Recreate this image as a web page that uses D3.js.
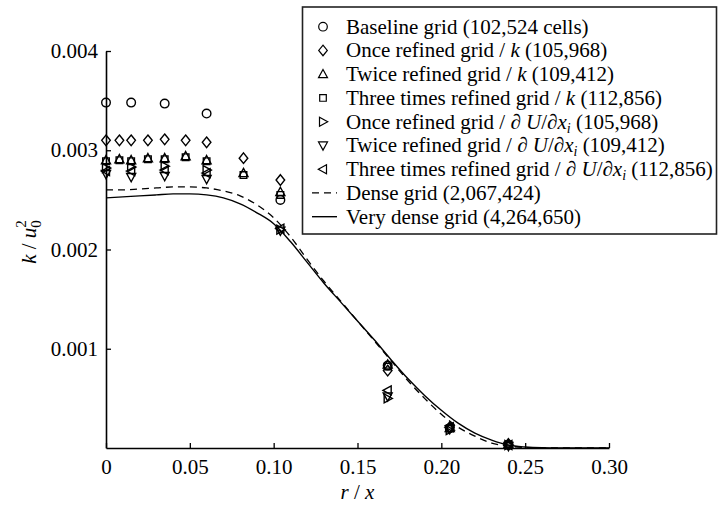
<!DOCTYPE html>
<html>
<head>
<meta charset="utf-8">
<script src="https://cdn.jsdelivr.net/npm/d3@7"></script>
<style>
  html, body { margin: 0; padding: 0; background: #fff; }
</style>
</head>
<body>
<div id="chart"></div>
<script>
// Dades llegides del gràfic: k/u0^2 en funció de r/x

// posicions radials de les malles refinades (/k)
const rRefined = [0, 0.008, 0.015, 0.025, 0.035, 0.0475, 0.06, 0.082, 0.104, 0.168, 0.205, 0.24];
// posicions radials de la malla base i de les refinades per gradient
const rBase = [0, 0.015, 0.035, 0.06, 0.104, 0.168, 0.205, 0.24];

const baseline   = [0.00348, 0.00348, 0.00347, 0.00337, 0.00250, 0.00083, 0.00020, 0.00003];
const onceK      = [0.00310, 0.00310, 0.00310, 0.00310, 0.00311, 0.00310, 0.00308, 0.00292, 0.00270, 0.00078, 0.00021, 0.00004];
const twiceK     = [0.00290, 0.00291, 0.00290, 0.00292, 0.00292, 0.00294, 0.00290, 0.00277, 0.00258, 0.00084, 0.00020, 0.00004];
const threeK     = [0.00289, 0.00290, 0.00289, 0.00291, 0.00291, 0.00293, 0.00289, 0.00275, 0.00255, 0.00082, 0.00020, 0.00003];
const onceGrad   = [0.00282, 0.00283, 0.00284, 0.00280, 0.00220, 0.00050, 0.00018, 0.00003];
const twiceGrad  = [0.00276, 0.00273, 0.00274, 0.00271, 0.00219, 0.00052, 0.00019, 0.00002];
const threeGrad  = [0.00279, 0.00279, 0.00280, 0.00277, 0.00221, 0.00058, 0.00021, 0.00003];

// corbes de referència
const rCurve = [0, 0.01, 0.02, 0.03, 0.04, 0.05, 0.06, 0.07, 0.08, 0.09, 0.10, 0.11, 0.12, 0.13, 0.14, 0.15,
                0.16, 0.17, 0.18, 0.19, 0.20, 0.21, 0.22, 0.23, 0.24, 0.25, 0.26, 0.27, 0.28, 0.29, 0.30];
const denseGrid = [0.00260, 0.00260, 0.00261, 0.00262, 0.00263, 0.00263, 0.00262, 0.00259, 0.00254, 0.00245, 0.00232,
                   0.00213, 0.00190, 0.00168, 0.00148, 0.00128, 0.00108, 0.00088, 0.00068, 0.00050, 0.00034,
                   0.00021, 0.00012, 0.00005, 0.00002, 0.000005, 0, 0, 0, 0, 0];
const veryDenseGrid = [0.00252, 0.00253, 0.00254, 0.00255, 0.00256, 0.00256, 0.00255, 0.00252, 0.00246, 0.00237, 0.00226,
                       0.00208, 0.00187, 0.00166, 0.00147, 0.00128, 0.00109, 0.00089, 0.00070, 0.00053, 0.00038,
                       0.00025, 0.00015, 0.00008, 0.00003, 0.00001, 0.000002, 0, 0, 0, 0];

const xTicks = [0, 0.05, 0.10, 0.15, 0.20, 0.25, 0.30];
const yTicks = [0.001, 0.002, 0.003, 0.004];

const FONT = "Liberation Serif";
const W = 718, H = 505;
const margin = { top: 51, right: 109, bottom: 57, left: 106 };

const svg = d3.select("#chart").append("svg")
    .attr("width", W)
    .attr("height", H);

const x = d3.scaleLinear().domain([0, 0.30]).range([margin.left, W - margin.right]);
const y = d3.scaleLinear().domain([0, 0.004]).range([H - margin.bottom, margin.top]);

// Marcadors: camins simples centrats a l'origen
function markerPath(kind) {
    const p = d3.path();
    if (kind === "circle") {
        p.arc(0, 0, 4.3, 0, 2 * Math.PI);
    } else if (kind === "diamond") {
        p.moveTo(0, -5.3); p.lineTo(4.3, 0); p.lineTo(0, 5.3); p.lineTo(-4.3, 0); p.closePath();
    } else if (kind === "square") {
        p.rect(-3.3, -3.3, 6.6, 6.6);
    } else {
        // triangle cap amunt; els altres es giren
        p.moveTo(0, -4.7); p.lineTo(4.5, 3.5); p.lineTo(-4.5, 3.5); p.closePath();
    }
    return p.toString();
}
const rotation = { up: 0, right: 90, down: 180, left: 270 };

const series = [
    { name: "Baseline grid (102,524 cells)", xs: rBase, ys: baseline, kind: "circle" },
    { name: "Once refined grid / k (105,968)", xs: rRefined, ys: onceK, kind: "diamond" },
    { name: "Twice refined grid / k (109,412)", xs: rRefined, ys: twiceK, kind: "tri", dir: "up" },
    { name: "Three times refined grid / k (112,856)", xs: rRefined, ys: threeK, kind: "square" },
    { name: "Once refined grid / ∂U (105,968)", xs: rBase, ys: onceGrad, kind: "tri", dir: "right" },
    { name: "Twice refined grid / ∂U (109,412)", xs: rBase, ys: twiceGrad, kind: "tri", dir: "down" },
    { name: "Three times refined grid / ∂U (112,856)", xs: rBase, ys: threeGrad, kind: "tri", dir: "left" }
];

// Corbes
const line = d3.line()
    .x(d => x(d[0]))
    .y(d => y(d[1]))
    .curve(d3.curveMonotoneX);

svg.append("path")
    .datum(rCurve.map((r, i) => [r, denseGrid[i]]))
    .attr("d", line)
    .attr("fill", "none")
    .attr("stroke", "#000")
    .attr("stroke-width", 1.3)
    .attr("stroke-dasharray", "7,5");

svg.append("path")
    .datum(rCurve.map((r, i) => [r, veryDenseGrid[i]]))
    .attr("d", line)
    .attr("fill", "none")
    .attr("stroke", "#000")
    .attr("stroke-width", 1.4);

// Punts
series.forEach(s => {
    svg.append("g")
        .selectAll("path")
        .data(s.xs.map((r, i) => [r, s.ys[i]]))
        .join("path")
        .attr("d", markerPath(s.kind))
        .attr("transform", d => `translate(${x(d[0])},${y(d[1])}) rotate(${s.dir ? rotation[s.dir] : 0})`)
        .attr("fill", "none")
        .attr("stroke", "#000")
        .attr("stroke-width", 1.4);
});

// Eixos
const xAxis = svg.append("g")
    .attr("transform", `translate(0,${y(0)})`)
    .call(d3.axisBottom(x).tickValues(xTicks).tickSizeInner(-5).tickSizeOuter(0).tickPadding(11)
        .tickFormat(d => d === 0 ? "0" : d.toFixed(2)));

const yAxis = svg.append("g")
    .attr("transform", `translate(${x(0)},0)`)
    .call(d3.axisLeft(y).tickValues(yTicks).tickSizeInner(-5).tickSizeOuter(0).tickPadding(8)
        .tickFormat(d3.format(".3f")));

[xAxis, yAxis].forEach(a => {
    a.attr("font-size", 21);
    a.select(".domain").attr("stroke", "#000").attr("stroke-width", 1.6);
    a.selectAll(".tick line").attr("stroke", "#000").attr("stroke-width", 1.3);
    a.selectAll(".tick text").attr("fill", "#000");
});

// Títols dels eixos
const xLabel = svg.append("text")
    .attr("x", (x(0) + x(0.30)) / 2)
    .attr("y", 499)
    .attr("text-anchor", "middle")
    .attr("font-size", 21);
xLabel.append("tspan").attr("font-style", "italic").text("r");
xLabel.append("tspan").text(" / ");
xLabel.append("tspan").attr("font-style", "italic").text("x");

const yLabel = svg.append("text")
    .attr("transform", "translate(36,242) rotate(-90)")
    .attr("text-anchor", "middle")
    .attr("font-size", 21);
yLabel.append("tspan").attr("font-style", "italic").text("k");
yLabel.append("tspan").text(" / ");
yLabel.append("tspan").attr("font-style", "italic").text("u");
yLabel.append("tspan").attr("dy", 5).attr("font-size", 15).text("0");
yLabel.append("tspan").attr("dx", -7.5).attr("dy", -15).attr("font-size", 15).text("2");

// Llegenda
const legend = svg.append("g");
legend.append("rect")
    .attr("x", 302.5)
    .attr("y", 7)
    .attr("width", 414)
    .attr("height", 227)
    .attr("fill", "#fff")
    .attr("stroke", "#222")
    .attr("stroke-width", 1.6);

const rowY = i => 26.7 + i * 23.75;
const symX = 323, textX = 346;
const legendSize = 21;

series.forEach((s, i) => {
    legend.append("path")
        .attr("d", markerPath(s.kind))
        .attr("transform", `translate(${symX},${rowY(i)}) rotate(${s.dir ? rotation[s.dir] : 0})`)
        .attr("fill", "none")
        .attr("stroke", "#000")
        .attr("stroke-width", 1.2);

    const t = legend.append("text")
        .attr("x", textX)
        .attr("y", rowY(i) + 7)
        .attr("font-size", legendSize);
    if (i === 0) {
        t.text(s.name);
    } else if (i < 4) {
        const parts = s.name.split(" / k ");
        t.append("tspan").text(parts[0] + " / ");
        t.append("tspan").attr("font-style", "italic").text("k");
        t.append("tspan").text(" " + parts[1]);
    } else {
        const parts = s.name.split(" / ∂U ");
        t.append("tspan").text(parts[0] + " / ∂ ");
        t.append("tspan").attr("font-style", "italic").text("U");
        t.append("tspan").text("/∂");
        t.append("tspan").attr("font-style", "italic").text("x");
        t.append("tspan").attr("font-style", "italic").attr("dy", 4).attr("font-size", 14).text("i");
        t.append("tspan").attr("dy", -4).text(" " + parts[1]);
    }
});

// mostres de línia
legend.append("line")
    .attr("x1", 312).attr("x2", 337)
    .attr("y1", rowY(7)).attr("y2", rowY(7))
    .attr("stroke", "#000").attr("stroke-width", 1.3).attr("stroke-dasharray", "7,5");
legend.append("text").attr("x", textX).attr("y", rowY(7) + 7).attr("font-size", legendSize).text("Dense grid (2,067,424)");
legend.append("line")
    .attr("x1", 312).attr("x2", 337)
    .attr("y1", rowY(8)).attr("y2", rowY(8))
    .attr("stroke", "#000").attr("stroke-width", 1.4);
legend.append("text").attr("x", textX).attr("y", rowY(8) + 7).attr("font-size", legendSize).text("Very dense grid (4,264,650)");

// tipus de lletra directament a cada text
svg.selectAll("text").attr("font-family", FONT);
</script>
</body>
</html>
